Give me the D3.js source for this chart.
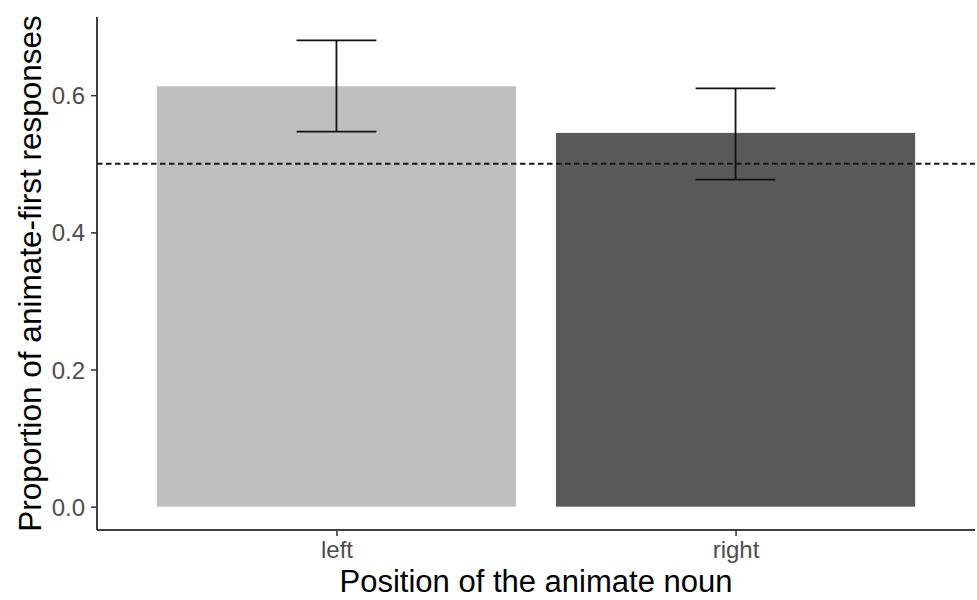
<!DOCTYPE html>
<html>
<head>
<meta charset="utf-8">
<script src="https://cdn.jsdelivr.net/npm/d3@7"></script>
<style>
  html, body { margin: 0; padding: 0; background: #fff; }
  svg { display: block; font-family: "Liberation Sans", Arial, sans-serif; }
</style>
</head>
<body>
<svg id="chart" width="977" height="600"></svg>
<script>
// ---- data ----
const categories = ["left", "right"];
const proportions = [0.613, 0.545];
const errLower = [0.547, 0.477];
const errUpper = [0.680, 0.610];
const barColors = ["#bfbfbf", "#595959"];
const yTicks = [0.0, 0.2, 0.4, 0.6];
const chanceLevel = 0.5;
const xTitle = "Position of the animate noun";
const yTitle = "Proportion of animate-first responses";

// ---- layout ----
const W = 977, H = 600;
const plot = { left: 97, right: 975, top: 17, bottom: 530 };

const svg = d3.select("#chart");

// y scale with ggplot-like 5% expansion
const yMax = d3.max(errUpper);
const yMinData = 0;
const pad = (yMax - yMinData) * 0.05;
const y = d3.scaleLinear()
  .domain([yMinData - pad, yMax + pad])
  .range([plot.bottom, plot.top]);

// x point scale: ggplot discrete expansion 0.6 units, bar width 0.9
const x = d3.scalePoint()
  .domain(categories)
  .range([plot.left, plot.right])
  .padding(0.6);
const step = x.step();
const barW = step * 0.9;
const capW = step * 0.1;

// bars
svg.append("g").selectAll("rect")
  .data(categories)
  .join("rect")
  .attr("x", (d) => x(d) - barW / 2)
  .attr("width", barW)
  .attr("y", (d, i) => y(proportions[i]))
  .attr("height", (d, i) => y(0) - y(proportions[i]))
  .attr("fill", (d, i) => barColors[i]);

// dashed chance line
svg.append("line")
  .attr("x1", plot.left).attr("x2", plot.right)
  .attr("y1", y(chanceLevel)).attr("y2", y(chanceLevel))
  .attr("stroke", "#1a1a1a")
  .attr("stroke-width", 1.8)
  .attr("stroke-dasharray", "5.5,3.5");

// error bars
const eb = svg.append("g").attr("stroke", "#111").attr("stroke-width", 1.8).attr("fill", "none");
categories.forEach((c, i) => {
  const cx = x(c);
  eb.append("line").attr("x1", cx).attr("x2", cx).attr("y1", y(errLower[i])).attr("y2", y(errUpper[i]));
  eb.append("line").attr("x1", cx - capW).attr("x2", cx + capW).attr("y1", y(errUpper[i])).attr("y2", y(errUpper[i]));
  eb.append("line").attr("x1", cx - capW).attr("x2", cx + capW).attr("y1", y(errLower[i])).attr("y2", y(errLower[i]));
});

// y axis
const yAxis = d3.axisLeft(y).tickValues(yTicks).tickFormat(d3.format(".1f")).tickSize(6).tickPadding(6);
const gy = svg.append("g").attr("transform", `translate(${plot.left},0)`).call(yAxis);
gy.select(".domain").attr("d", `M0,${plot.top}V${plot.bottom}`).attr("stroke", "#000").attr("stroke-width", 1.5);
gy.selectAll(".tick line").attr("stroke", "#333").attr("stroke-width", 1.5);
gy.selectAll(".tick text").attr("fill", "#4d4d4d").style("font-size", "24px").attr("dy", "0.36em");

// x axis
const xAxis = d3.axisBottom(x).tickSize(6).tickPadding(5);
const gx = svg.append("g").attr("transform", `translate(0,${plot.bottom})`).call(xAxis);
gx.select(".domain").attr("d", `M${plot.left},0H${plot.right}`).attr("stroke", "#000").attr("stroke-width", 1.5);
gx.selectAll(".tick line").attr("stroke", "#333").attr("stroke-width", 1.5);
gx.selectAll(".tick text").attr("fill", "#4d4d4d").style("font-size", "24px").attr("dy", "0.71em");

// titles
svg.append("text")
  .attr("x", (plot.left + plot.right) / 2)
  .attr("y", 592)
  .attr("text-anchor", "middle")
  .style("font-size", "31px")
  .attr("fill", "#000")
  .text(xTitle);

svg.append("text")
  .attr("transform", `translate(41,${(plot.top + plot.bottom) / 2}) rotate(-90)`)
  .attr("text-anchor", "middle")
  .style("font-size", "31.5px")
  .attr("fill", "#000")
  .text(yTitle);
</script>
</body>
</html>
